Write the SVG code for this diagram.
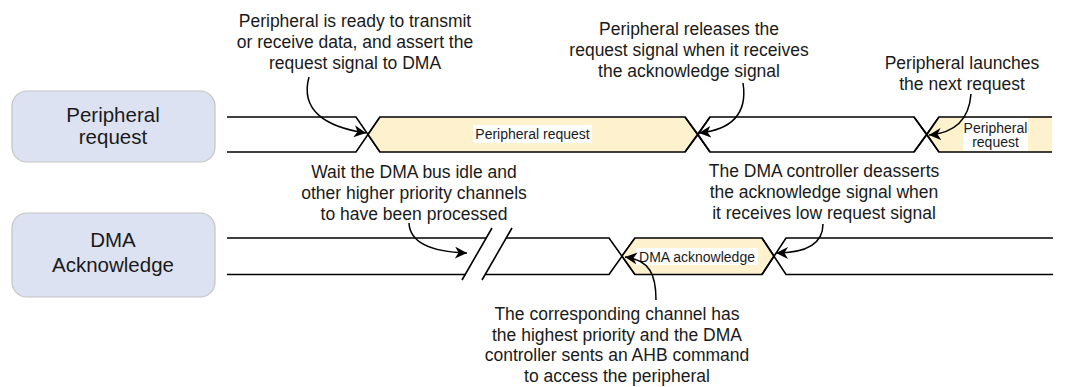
<svg xmlns="http://www.w3.org/2000/svg" width="1065" height="387" viewBox="0 0 1065 387">
<defs>
<marker id="ah" markerUnits="userSpaceOnUse" markerWidth="14" markerHeight="12" viewBox="0 0 14 12" refX="12" refY="6" orient="auto">
<path d="M0,0 L12,6 L0,12 L3.5,6 Z" fill="#000"/>
</marker>
<style>
.lbl{fill:#dde2f3;stroke:#c4c4c4;stroke-width:1.2}
.lt{font-family:"Liberation Sans",Arial,sans-serif;font-size:20.5px;fill:#1a1a1a;text-anchor:middle}
.an{font-family:"Liberation Sans",Arial,sans-serif;font-size:17.5px;fill:#1a1a1a;text-anchor:middle}
.st{font-family:"Liberation Sans",Arial,sans-serif;font-size:14px;fill:#1a1a1a;text-anchor:middle}
.w{fill:none;stroke:#000;stroke-width:1.6;stroke-linejoin:miter}
.y{fill:#fef1cd;stroke:#000;stroke-width:1.6}
.bg{fill:#fff}
.arr{fill:none;stroke:#000;stroke-width:1.5;marker-end:url(#ah)}
</style>
</defs>
<rect width="1065" height="387" fill="#fff"/>

<g id="label-peripheral-request">
<rect class="lbl" x="12" y="91" width="203" height="71" rx="15"/>
<text class="lt" x="113" y="122">Peripheral</text>
<text class="lt" x="113" y="144">request</text>
</g>

<g id="label-dma-acknowledge">
<rect class="lbl" x="12" y="213" width="203" height="84" rx="15"/>
<text class="lt" x="113" y="247">DMA</text>
<text class="lt" x="113" y="272">Acknowledge</text>
</g>

<g id="signal-request">
<path class="w" d="M227,117 H356 L380,152 M227,152 H356 L380,117"/>
<polygon class="y" points="368,134.5 380,117 685,117 698,134.5 685,152 380,152"/>
<path class="w" d="M685,117 L710,152 M685,152 L710,117"/>
<polygon class="w" points="698,134.5 710,117 914,117 927,134.5 914,152 710,152"/>
<path class="w" d="M914,117 L939,152 M914,152 L939,117"/>
<polygon points="927,134.5 939,117 1052,117 1052,152 939,152" fill="#fef1cd"/>
<path class="w" d="M927,134.5 L939,117 H1052 M927,134.5 L939,152 H1052"/>
<rect class="bg" x="473" y="125" width="119" height="18"/>
<text class="st" x="532.5" y="139">Peripheral request</text>
<rect class="bg" x="963" y="118" width="65" height="33"/>
<text class="st" x="995.5" y="133">Peripheral</text>
<text class="st" x="995.5" y="147">request</text>
</g>

<g id="signal-ack">
<path class="w" d="M227,238 H486 M227,274.5 H466"/>
<path class="w" d="M462,280 L492,228 M482,280 L512,228"/>
<path class="w" d="M506,238 H609 L635,274.5 M485.5,274.5 H609 L635,238"/>
<polygon class="y" points="622,256 635,238 762,238 774,256 762,274.5 635,274.5"/>
<path class="w" d="M762,238 L786,274.5 H1053 M762,274.5 L786,238 H1053"/>
<rect class="bg" x="636" y="248" width="122" height="17"/>
<text class="st" x="697" y="261.5">DMA acknowledge</text>
</g>

<g id="annotations">
<text class="an" x="355" y="27">Peripheral is ready to transmit</text>
<text class="an" x="355" y="48">or receive data, and assert the</text>
<text class="an" x="355" y="69">request signal to DMA</text>

<text class="an" x="689" y="35">Peripheral releases the</text>
<text class="an" x="689" y="56">request signal when it receives</text>
<text class="an" x="689" y="77">the acknowledge signal</text>

<text class="an" x="962" y="69">Peripheral launches</text>
<text class="an" x="962" y="90">the next request</text>

<text class="an" x="414" y="178">Wait the DMA bus idle and</text>
<text class="an" x="414" y="199">other higher priority channels</text>
<text class="an" x="414" y="220">to have been processed</text>

<text class="an" x="824" y="177">The DMA controller deasserts</text>
<text class="an" x="824" y="198">the acknowledge signal when</text>
<text class="an" x="824" y="219">it receives low request signal</text>

<text class="an" x="617" y="320">The corresponding channel has</text>
<text class="an" x="617" y="340.5">the highest priority and the DMA</text>
<text class="an" x="617" y="361">controller sents an AHB command</text>
<text class="an" x="617" y="381.5">to access the peripheral</text>
</g>

<g id="connectors">
<path class="arr" d="M309,77 C300,110 325,127 366,133"/>
<path class="arr" d="M743,83 C748,115 730,130 699,133"/>
<path class="arr" d="M971,94 C969,120 955,133 929,135"/>
<path class="arr" d="M409,223 C410,245 435,252 467,253"/>
<path class="arr" d="M823,224 C823,245 805,253 776,253"/>
<path class="arr" d="M656,300 C656,275 650,260 625,257"/>
</g>
</svg>
